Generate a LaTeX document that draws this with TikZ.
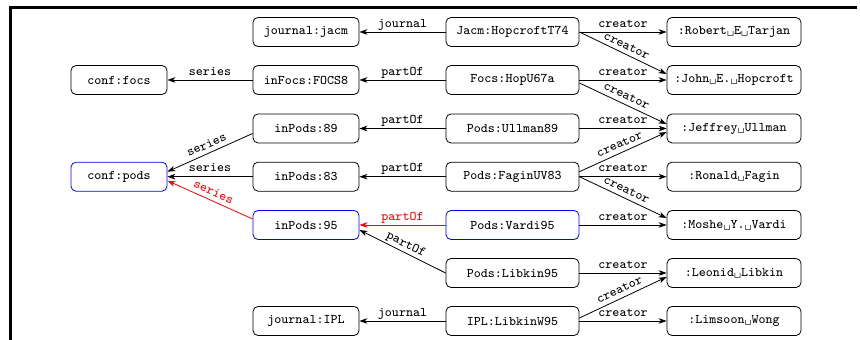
\documentclass[tikz,border=0pt]{standalone}
\usepackage{tikz}
\usetikzlibrary{arrows.meta}
\tikzset{
  res/.style  = {draw, thin, rounded corners=2.5pt, minimum height=14.5pt,
                 inner sep=1pt, align=center},
  colA/.style = {res, minimum width=48pt},
  colB/.style = {res, minimum width=53pt},
  colC/.style = {res, minimum width=66.5pt},
  colD/.style = {res, minimum width=67pt},
  hl/.style   = {draw=blue},
  sig/.style  = {-{Stealth[length=4pt,width=2.8pt,inset=1.2pt]}, thin},
  lbl/.style  = {above, inner sep=2.2pt, text depth=0pt},
}
\newcommand{\vs}{\textvisiblespace}

\begin{document}
\begin{tikzpicture}[x=0.5pt,y=0.5pt,font=\fontsize{6.6}{8}\selectfont\ttfamily]
\useasboundingbox (0,0) rectangle (860,340);
\draw[line width=1.75pt] (857,332.5) -- (10.7,332.5) -- (10.7,0);
% left columns
\node[colB] (jacm) at (306,308) {journal:jacm};
\node[colA] (focs) at (119,260) {conf:focs};
\node[colB] (infocs) at (306,260) {inFocs:FOCS8};
\node[colB] (inpodsA) at (306,211.5) {inPods:89};
\node[colA,hl] (pods) at (119,163.3) {conf:pods};
\node[colB] (inpodsB) at (306,163.3) {inPods:83};
\node[colB,hl] (inpodsC) at (306,115) {inPods:95};
\node[colB] (ipl) at (306,19) {journal:IPL};
% papers
\node[colC] (hopT) at (512.5,308) {Jacm:HopcroftT74};
\node[colC] (hopU) at (512.5,260) {Focs:HopU67a};
\node[colC] (ull) at (512.5,211.5) {Pods:Ullman89};
\node[colC] (fag) at (512.5,163.3) {Pods:FaginUV83};
\node[colC,hl] (var) at (512.5,115) {Pods:Vardi95};
\node[colC] (lib) at (512.5,67) {Pods:Libkin95};
\node[colC] (libW) at (512.5,19) {IPL:LibkinW95};
% authors
\node[colD] (tarjan) at (734,308) {:Robert\vs E\vs Tarjan};
\node[colD] (hopcroft) at (734,260) {:John\vs E.\vs Hopcroft};
\node[colD] (ullman) at (734,211.5) {:Jeffrey\vs Ullman};
\node[colD] (fagin) at (734,163.3) {:Ronald\vs Fagin};
\node[colD] (vardi) at (734,115) {:Moshe\vs Y.\vs Vardi};
\node[colD] (libkin) at (734,67) {:Leonid\vs Libkin};
\node[colD] (wong) at (734,19) {:Limsoon\vs Wong};
% edges
\draw[sig] (hopT) -- node[lbl] {journal} (jacm);
\draw[sig] (hopT) -- node[lbl] {creator} (tarjan);
\draw[sig] (hopT.east) -- node[lbl,sloped] {creator} ([yshift=3pt]hopcroft.west);
\draw[sig] (infocs) -- node[lbl] {series} (focs);
\draw[sig] (hopU) -- node[lbl] {partOf} (infocs);
\draw[sig] (hopU) -- node[lbl] {creator} (hopcroft);
\draw[sig] ([yshift=-1.5pt]hopU.east) -- node[lbl,sloped] {creator} ([yshift=2.2pt]ullman.west);
\draw[sig] ([yshift=-2.5pt]inpodsA.west) -- node[lbl,sloped] {series} ([yshift=2.5pt]pods.east);
\draw[sig] (ull) -- node[lbl] {partOf} (inpodsA);
\draw[sig] (ull) -- node[lbl] {creator} (ullman);
\draw[sig] (inpodsB) -- node[lbl] {series} (pods);
\draw[sig] (fag) -- node[lbl] {partOf} (inpodsB);
\draw[sig] ([yshift=2.5pt]fag.east) -- node[lbl,sloped] {creator} ([yshift=-1.8pt]ullman.west);
\draw[sig] (fag) -- node[lbl] {creator} (fagin);
\draw[sig] (fag.east) -- node[lbl,sloped] {creator} ([yshift=3.5pt]vardi.west);
\draw[sig,red] ([yshift=3pt]inpodsC.west) -- node[lbl,sloped] {series} ([yshift=-2pt]pods.east);
\draw[sig,red] (var) -- node[lbl] {partOf} (inpodsC);
\draw[sig] (var) -- node[lbl] {creator} (vardi);
\draw[sig] (lib.west) -- node[lbl,sloped] {partOf} ([yshift=-2.5pt]inpodsC.east);
\draw[sig] (lib) -- node[lbl] {creator} (libkin);
\draw[sig] (libW) -- node[lbl] {journal} (ipl);
\draw[sig] ([yshift=1.5pt]libW.east) -- node[lbl,sloped] {creator} ([yshift=-2pt]libkin.west);
\draw[sig] (libW) -- node[lbl] {creator} (wong);
\end{tikzpicture}
\end{document}
